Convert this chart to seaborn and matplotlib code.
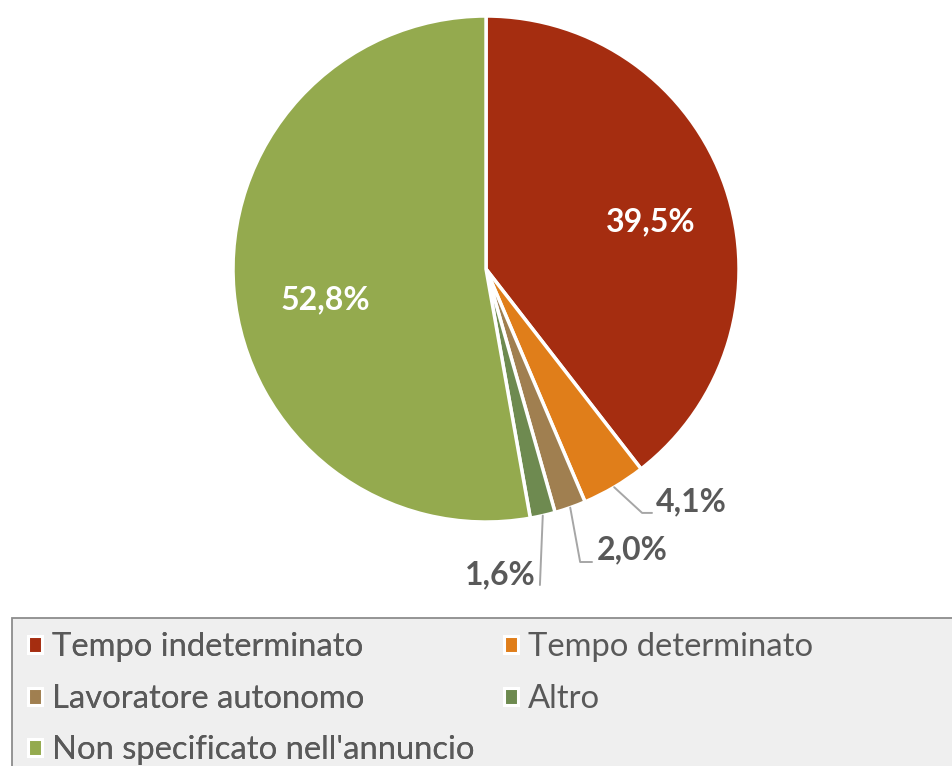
import numpy as np
import matplotlib
matplotlib.use("Agg")
import matplotlib.pyplot as plt
import seaborn as sns
from matplotlib.patches import Patch, Rectangle

categorie = ["Tempo indeterminato", "Tempo determinato", "Lavoratore autonomo",
             "Altro", "Non specificato nell'annuncio"]
valori = [39.5, 4.1, 2.0, 1.6, 52.8]
etichette = ["39,5%", "4,1%", "2,0%", "1,6%", "52,8%"]
colori = ["#A52D10", "#E07E1A", "#A07F50", "#6E8A50", "#94AA4E"]

sns.set_theme(style="white")
plt.rcParams["font.family"] = ["Lato", "DejaVu Sans"]
grigio = "#595959"

fig = plt.figure(figsize=(9.53, 7.66), dpi=100)
ax = fig.add_axes([0.2445, 0.3185, 0.531, 0.6606])

wedges, _ = ax.pie(valori, colors=colori, startangle=90, counterclock=False,
                   wedgeprops=dict(edgecolor="white", linewidth=2.5))
ax.set_xlim(-1, 1)
ax.set_ylim(-1, 1)
ax.set_aspect("equal")
ax.axis("off")

# posizione delle etichette (unita' del raggio): testo, gomito della linea guida
pos_interne = {0: (0.652, 0.186), 4: (-0.636, -0.123)}
guide = {1: ((0.617, -0.964), (0.656, -0.964), (0.672, -0.921), "left"),
         2: ((0.372, -1.158), (0.419, -1.158), (0.437, -1.110), "left"),
         3: ((0.213, -1.249), None, (0.196, -1.210), "right")}

tot = sum(valori)
inizio = 90.0
for i, (v, lab) in enumerate(zip(valori, etichette)):
    fine = inizio - v / tot * 360
    mid = np.deg2rad((inizio + fine) / 2)
    inizio = fine
    if i in pos_interne:
        x, y = pos_interne[i]
        ax.text(x, y, lab, color="white", fontsize=23, fontweight="bold",
                ha="center", va="center")
        continue
    gomito, fine_linea, testo, ha = guide[i]
    xs = [np.cos(mid), gomito[0]]
    ys = [np.sin(mid), gomito[1]]
    if fine_linea is not None:
        xs.append(fine_linea[0])
        ys.append(fine_linea[1])
    ax.plot(xs, ys, color="#A6A6A6", lw=1.4, clip_on=False)
    ax.text(testo[0], testo[1], lab, color=grigio, fontsize=23,
            fontweight="bold", ha=ha, va="center")

# riquadro della legenda
fig.patches.append(Rectangle((12 / 953, -0.02), 1.0, (766 - 618) / 766 + 0.02,
                             transform=fig.transFigure, facecolor="#EFEFEF",
                             edgecolor="#8C8C8C", linewidth=1.3, zorder=0))

handles = [Patch(facecolor=c, edgecolor="white", linewidth=2.2) for c in colori]
opzioni = dict(loc="upper left", frameon=False, fontsize=23.6, labelcolor=grigio,
               handlelength=0.42, handleheight=0.42, handletextpad=0.3,
               labelspacing=0.66, borderaxespad=0)
col1 = [0, 2, 4]
col2 = [1, 3]
leg1 = fig.legend([handles[i] for i in col1], [categorie[i] for i in col1],
                  bbox_to_anchor=(15 / 953, (766 - 619) / 766), **opzioni)
fig.add_artist(leg1)
fig.legend([handles[i] for i in col2], [categorie[i] for i in col2],
           bbox_to_anchor=(491 / 953, (766 - 619) / 766), **opzioni)

fig.savefig("out.png", dpi=100)
